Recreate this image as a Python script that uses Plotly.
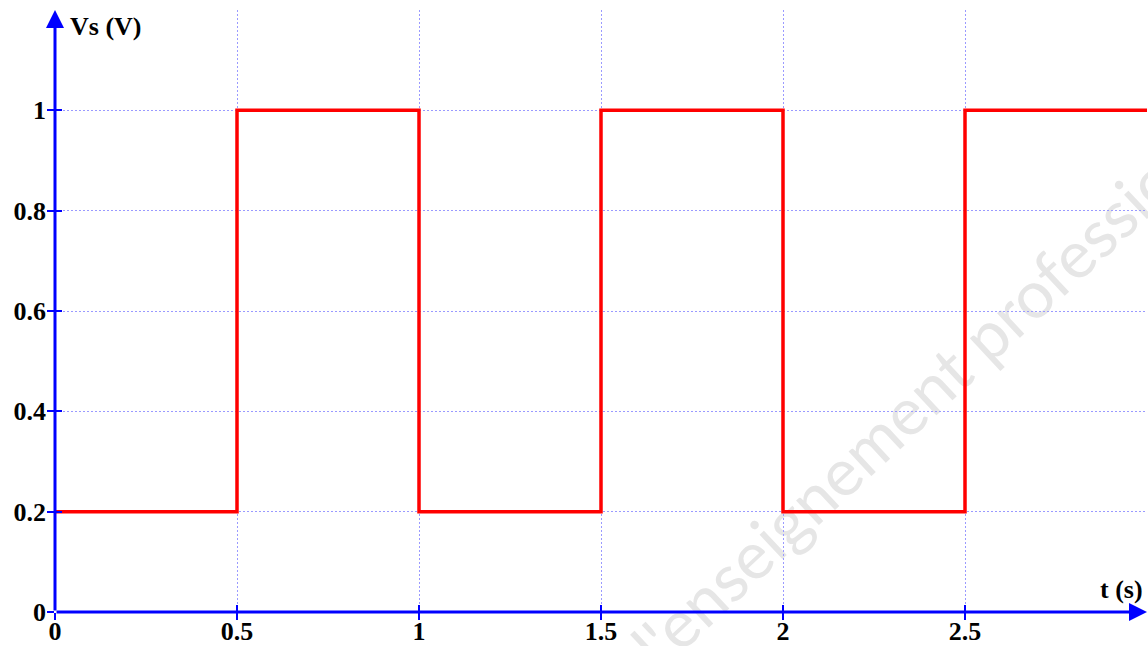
import plotly.graph_objects as go

# Data: square wave Vs(t)
t_values = [0, 0.5, 1.0, 1.5, 2.0, 2.5, 3.0]
vs_values = [0.2, 1.0, 0.2, 1.0, 0.2, 1.0, 1.0]

x_ticks = [0, 0.5, 1, 1.5, 2, 2.5]
x_tick_labels = ["0", "0.5", "1", "1.5", "2", "2.5"]
y_ticks = [0, 0.2, 0.4, 0.6, 0.8, 1]
y_tick_labels = ["0", "0.2", "0.4", "0.6", "0.8", "1"]

X_MAX = 3.0
Y_MAX = 1.2

BLUE = "#0000ff"
GRID = "#9a9aff"
FONT = dict(family="Liberation Serif", size=26, color="black")

fig = go.Figure()

fig.add_trace(go.Scatter(
    x=t_values, y=vs_values, mode="lines",
    line=dict(color="#ff0000", width=3.5, shape="hv"),
    showlegend=False, hoverinfo="skip",
))

tick_axis = dict(showticklabels=False, tickcolor=BLUE, tickwidth=1.5, ticklen=7,
                 automargin=False, showgrid=False, zeroline=False, showline=False)

fig.update_layout(
    width=1148, height=646,
    margin=dict(l=55, r=1, t=10, b=34),
    paper_bgcolor="white", plot_bgcolor="white",
    font=FONT,
    xaxis=dict(
        range=[0, X_MAX], tickvals=x_ticks, ticktext=["<b>%s</b>" % s for s in x_tick_labels],
        showgrid=True, gridcolor=GRID, griddash="2px,2px", gridwidth=1,
        ticks="", ticklabelstandoff=1,
        zeroline=False, showline=False, tickfont=FONT, automargin=False,
    ),
    yaxis=dict(
        range=[0, Y_MAX], tickvals=y_ticks, ticktext=["<b>%s</b>" % s for s in y_tick_labels],
        showgrid=True, gridcolor=GRID, griddash="2px,2px", gridwidth=1,
        ticks="", ticklabelstandoff=8,
        zeroline=False, showline=False, tickfont=FONT, automargin=False,
    ),
    xaxis2=dict(range=[0, X_MAX], overlaying="x", tickvals=x_ticks, ticks="outside",
                anchor="y", **tick_axis),
    yaxis2=dict(range=[0, Y_MAX], overlaying="y", tickvals=y_ticks, ticks="outside",
                anchor="x", **tick_axis),
    xaxis3=dict(range=[0, X_MAX], overlaying="x", tickvals=x_ticks, ticks="inside",
                anchor="y", **tick_axis),
    yaxis3=dict(range=[0, Y_MAX], overlaying="y", tickvals=y_ticks, ticks="inside",
                anchor="x", **tick_axis),
)

# dummy traces to activate secondary axes
fig.add_trace(go.Scatter(x=[None], y=[None], xaxis="x2", yaxis="y2", showlegend=False))
fig.add_trace(go.Scatter(x=[None], y=[None], xaxis="x3", yaxis="y3", showlegend=False))

# Watermark, drawn beneath the curve
fig.add_shape(
    type="rect", xref="paper", yref="paper",
    x0=0.808, x1=0.828, y0=0.395, y1=0.415,
    line=dict(width=0), fillcolor="rgba(0,0,0,0)", layer="between",
    label=dict(text="l'enseignement professionnel", textangle=-43,
               textposition="middle center",
               font=dict(family="Lato", size=66, color="#e6e6e6")),
)

# Axis arrows
fig.add_annotation(x=X_MAX, y=0, ax=0, ay=0, xref="x", yref="y", axref="x", ayref="y",
                   showarrow=True, arrowhead=2, arrowsize=1.2, arrowwidth=3, arrowcolor=BLUE,
                   text="")
fig.add_annotation(x=0, y=Y_MAX, ax=0, ay=0, xref="x", yref="y", axref="x", ayref="y",
                   showarrow=True, arrowhead=2, arrowsize=1.2, arrowwidth=3, arrowcolor=BLUE,
                   text="")

# Axis titles
fig.add_annotation(text="<b>Vs (V)</b>", xref="paper", yref="paper", x=0.012, y=1.0,
                   xanchor="left", yanchor="top", showarrow=False, font=FONT)
fig.add_annotation(text="<b>t (s)</b>", xref="paper", yref="paper", x=0.998, y=0.01,
                   xanchor="right", yanchor="bottom", showarrow=False, font=FONT)

fig.write_html("out.html")
